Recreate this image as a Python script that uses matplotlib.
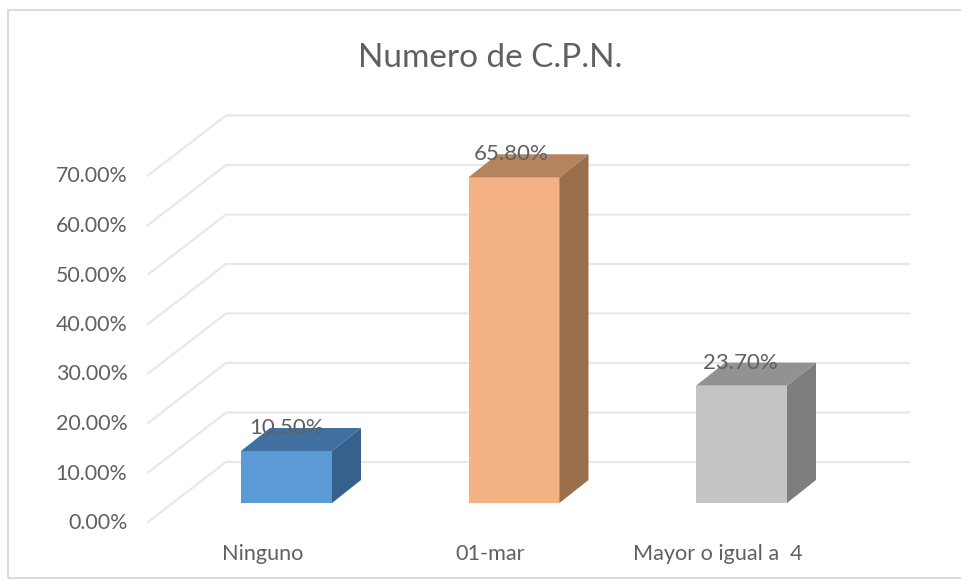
#%% Libraries
import numpy as np
import matplotlib
matplotlib.use("Agg")
import matplotlib.pyplot as plt
from matplotlib.patches import Polygon, Rectangle

#%% Data
categories = ["Ninguno", "01-mar", "Mayor o igual a  4"]
values = [10.5, 65.8, 23.7]
value_labels = ["10.50%", "65.80%", "23.70%"]
ticks = [0, 10, 20, 30, 40, 50, 60, 70]
tick_labels = ["0.00%", "10.00%", "20.00%", "30.00%", "40.00%", "50.00%", "60.00%", "70.00%"]

front_colors = ["#5b9bd5", "#f4b183", "#c4c4c4"]
top_colors = ["#3f70a0", "#b5835e", "#929292"]
side_colors = ["#36618c", "#9c6f4c", "#7e7e7e"]
text_color = "#606060"
grid_color = "#e8e8e8"

#%% Scales, 1 category = 227.5 px, 1 % = 4.95 px
W, H = 961, 581
px_x = 1 / 227.5
px_y = 1 / 4.95
x0_px, y0_px = 286.5, 522   # category 0, value 0 on the front floor edge

fig = plt.figure(figsize=(W / 100, H / 100), dpi=100)
ax = fig.add_axes([0, 0, 1, 1])
ax.set_xlim(-x0_px * px_x, (W - x0_px) * px_x)
ax.set_ylim(-(H - y0_px) * px_y, y0_px * px_y)
ax.axis("off")
plt.rcParams["font.family"] = "Lato"

# outer frame
ax.add_patch(Rectangle((0.0085, 0.005), 0.995, 0.978, transform=ax.transAxes,
                       fill=False, ec="#d8d8d8", lw=1.3, clip_on=False))

#%% Grid lines, diagonal on the side wall and straight on the back wall
left_front = -138.5 * px_x
left_back = -60.5 * px_x
right_back = 622.5 * px_x
depth_y = 60 * px_y
for t, lab in zip(ticks, tick_labels):
    ax.plot([left_front, left_back, right_back], [t, t + depth_y, t + depth_y],
            color=grid_color, lw=1.6, solid_joinstyle="miter", zorder=1)
    ax.text(-159 * px_x, t - 1 * px_y, lab, ha="right", va="center",
            fontsize=15.4, color=text_color)

#%% Bars
half_w = 45.5 * px_x
lift = 19 * px_y      # bar front base above the front floor edge
dx = 29 * px_x
dy = 23 * px_y
label_shift = [0, -3, -1]
for i, v in enumerate(values):
    l, r = i - half_w, i + half_w
    b, t = lift, lift + v
    ax.add_patch(Polygon([(l, b), (r, b), (r, t), (l, t)], fc=front_colors[i], ec="none", zorder=3))
    ax.add_patch(Polygon([(l, t), (r, t), (r + dx, t + dy), (l + dx, t + dy)], fc=top_colors[i], ec="none", zorder=3))
    ax.add_patch(Polygon([(r, b), (r + dx, b + dy), (r + dx, t + dy), (r, t)], fc=side_colors[i], ec="none", zorder=3))
    ax.text(i + label_shift[i] * px_x, t + 23 * px_y, value_labels[i], ha="center", va="center",
            fontsize=16, color=text_color, zorder=4)
    ax.text(i - 24 * px_x, -32 * px_y, categories[i],
            ha="center", va="center", fontsize=15.6, color=text_color)

#%% Title
ax.text(0.5 * (358 + 622) / W, 1 - 58 / H, "Numero de C.P.N.", transform=ax.transAxes,
        ha="center", va="center", fontsize=24, color=text_color)

plt.savefig("out.png", dpi=100)
